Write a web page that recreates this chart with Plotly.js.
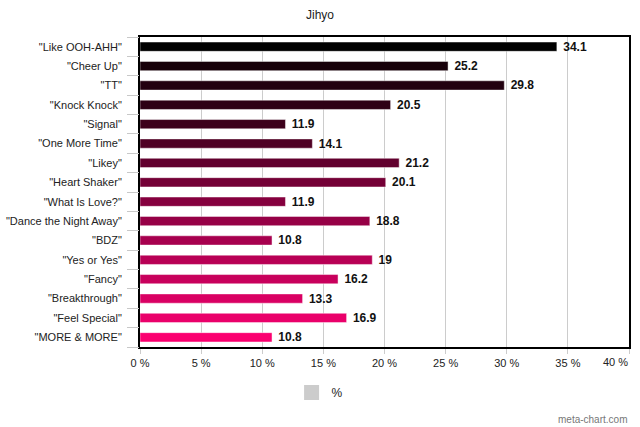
<!DOCTYPE html>
<html>
<head>
<meta charset="utf-8">
<script src="https://cdn.plot.ly/plotly-3.0.1.min.js"></script>
<style>html,body{margin:0;padding:0;background:#fff;}#chart{width:640px;height:427px;}</style>
</head>
<body>
<div id="chart"></div>
<script>
const songs = ['"Like OOH-AHH"','"Cheer Up"','"TT"','"Knock Knock"','"Signal"','"One More Time"','"Likey"','"Heart Shaker"','"What Is Love?"','"Dance the Night Away"','"BDZ"','"Yes or Yes"','"Fancy"','"Breakthrough"','"Feel Special"','"MORE & MORE"'];
const values = [34.1, 25.2, 29.8, 20.5, 11.9, 14.1, 21.2, 20.1, 11.9, 18.8, 10.8, 19, 16.2, 13.3, 16.9, 10.8];
const barColors = ['#000000','#170009','#220010','#2e0015','#3d001b','#500024','#62002e','#740036','#85003e','#960046','#a7004e','#b80055','#c8005c','#d90063','#ea006a','#fb0070'];
const seriesName = '%';
const tickVals = [0,5,10,15,20,25,30,35,40];
const tickText = ['0 %','5 %','10 %','15 %','20 %','25 %','30 %','35 %',''];
const lastTickText = '40 %';

const font = 'Liberation Sans, Arial, sans-serif';

// category boundaries for the tick stubs on the left axis
const boundaries = songs.map((s, i) => i - 0.5).concat([songs.length - 0.5]);

const data = [
  {
    type: 'bar',
    orientation: 'h',
    x: values,
    y: songs,
    marker: {color: barColors, line: {color: 'rgba(255,255,255,0.45)', width: 1}},
    text: values.map(v => String(v)),
    texttemplate: '&nbsp;%{text}',
    textposition: 'outside',
    constraintext: 'none',
    cliponaxis: false,
    textfont: {family: font, size: 12, color: '#111', weight: 'bold'},
    showlegend: false,
    hoverinfo: 'x+y'
  },
  {
    type: 'scatter',
    mode: 'markers',
    x: [null],
    y: [null],
    yaxis: 'y2',
    name: seriesName,
    marker: {symbol: 'square', color: '#cccccc', size: 15},
    showlegend: true,
    hoverinfo: 'skip'
  }
];

const layout = {
  width: 640,
  height: 427,
  margin: {l: 140, r: 11, t: 37, b: 80},
  paper_bgcolor: '#ffffff',
  plot_bgcolor: '#ffffff',
  title: {text: 'Jihyo', font: {family: font, size: 12, color: '#222'}, x: 0.5, xanchor: 'center', y: 0.975, yanchor: 'top'},
  bargap: 0.52,
  xaxis: {
    range: [0, 40],
    tickvals: tickVals,
    ticktext: tickText,
    showgrid: true,
    gridcolor: '#cccccc',
    gridwidth: 1,
    showline: true,
    mirror: true,
    linecolor: '#000000',
    linewidth: 2,
    ticks: 'outside',
    ticklen: 5,
    tickcolor: '#cccccc',
    tickfont: {family: font, size: 11, color: '#222'},
    zeroline: false,
    fixedrange: true
  },
  yaxis: {
    type: 'category',
    autorange: 'reversed',
    ticks: '',
    ticklabelstandoff: 14,
    showgrid: false,
    showline: true,
    mirror: true,
    linecolor: '#000000',
    linewidth: 2,
    tickfont: {family: font, size: 11, color: '#222'},
    zeroline: false,
    fixedrange: true
  },
  yaxis2: {
    overlaying: 'y',
    anchor: 'x',
    side: 'left',
    range: [songs.length - 0.5, -0.5],
    tickvals: boundaries,
    showticklabels: false,
    ticks: 'outside',
    ticklen: 12,
    tickwidth: 1,
    tickcolor: '#c8c8c8',
    showgrid: false,
    showline: false,
    zeroline: false,
    fixedrange: true
  },
  legend: {
    orientation: 'h',
    x: 0.31,
    xanchor: 'left',
    y: -0.1,
    yanchor: 'top',
    font: {family: font, size: 12, color: '#222'},
    itemwidth: 30
  },
  annotations: [
    {
      text: lastTickText,
      xref: 'paper', yref: 'paper',
      x: 1.002, xanchor: 'right',
      y: 0, yanchor: 'top', yshift: -7,
      showarrow: false,
      font: {family: font, size: 11, color: '#222'}
    },
    {
      text: 'meta-chart.com',
      xref: 'paper', yref: 'paper',
      x: 1, xanchor: 'right',
      y: -0.21, yanchor: 'top',
      showarrow: false,
      font: {family: font, size: 10, color: '#777'}
    }
  ]
};

Plotly.newPlot('chart', data, layout, {displayModeBar: false, staticPlot: true});
</script>
</body>
</html>
